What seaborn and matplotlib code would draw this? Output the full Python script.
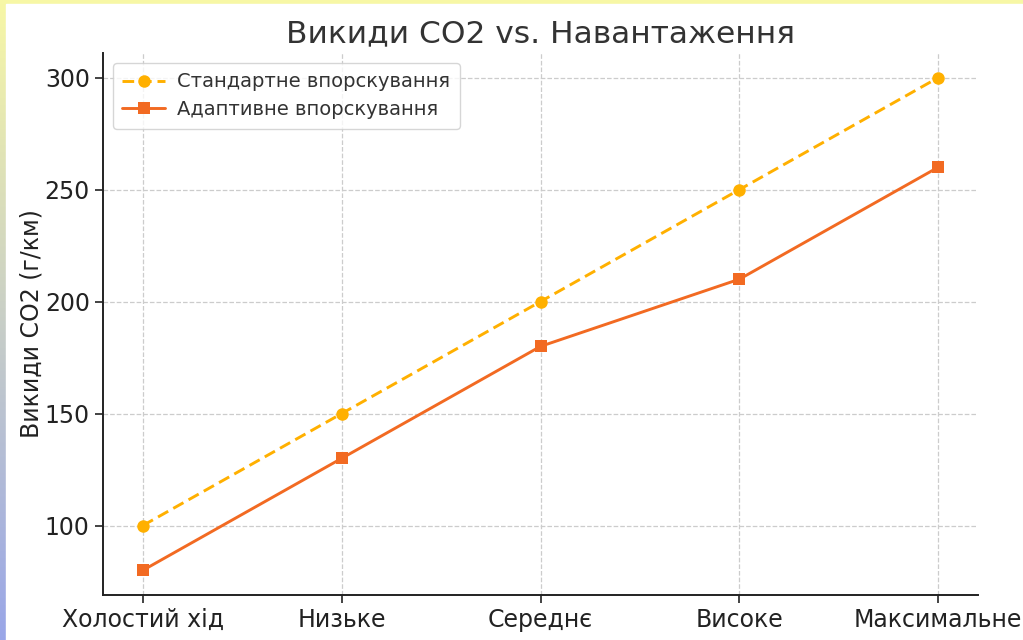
import matplotlib.pyplot as plt
import matplotlib.patches as mpatches
import numpy as np
import pandas as pd
import seaborn as sns

loads = ["Холостий хід", "Низьке", "Середнє", "Високе", "Максимальне"]
standard = [100, 150, 200, 250, 300]
adaptive = [80, 130, 180, 210, 260]
series_names = ["Стандартне впорскування", "Адаптивне впорскування"]

df = pd.DataFrame({
    "load": loads * 2,
    "co2": standard + adaptive,
    "series": [series_names[0]] * len(loads) + [series_names[1]] * len(loads),
})

sns.set_style("ticks")
plt.rcParams["font.family"] = ["DejaVu Sans"]

fig = plt.figure(figsize=(10.23, 6.4), dpi=100)

# decorative frame: yellow top strip, yellow->blue left strip
bg = fig.add_axes([0, 0, 1, 1], zorder=-10)
grad = np.linspace(0, 1, 256).reshape(-1, 1)
c_top = np.array([0.97, 0.97, 0.65])
c_bot = np.array([0.60, 0.65, 0.91])
img = c_top * (1 - grad[..., None]) + c_bot * grad[..., None]
img = img.reshape(256, 1, 3)
img = np.concatenate([img, img], axis=1)
bg.imshow(img, aspect="auto", extent=[0, 1, 0, 1], origin="upper")
bg.add_patch(mpatches.Rectangle((6 / 1023, 0), 1, 1 - 4 / 640, color="white"))
bg.set_xlim(0, 1)
bg.set_ylim(0, 1)
bg.axis("off")

ax = fig.add_axes([103 / 1023, 45 / 640, 875 / 1023, 542 / 640])
ax.patch.set_alpha(0)

palette = {series_names[0]: "#FFB000", series_names[1]: "#F26A22"}
sns.lineplot(data=df, x="load", y="co2", hue="series", style="series",
             palette=palette, markers=["o", "s"], dashes=[(4, 2), ""],
             linewidth=2.1, markersize=9, markeredgewidth=0, sort=False, ax=ax)

ax.set_title("Викиди CO2 vs. Навантаження", fontsize=22.5, color="#333333", pad=8)
ax.set_xlabel("")
ax.set_ylabel("Викиди CO2 (г/км)", fontsize=17, color="#222222", labelpad=1)
ax.set_yticks([100, 150, 200, 250, 300])
ax.tick_params(axis="both", labelsize=17, colors="#222222", length=6, width=1.2)
ax.grid(True, linestyle="--", color="#cccccc", linewidth=0.9)
ax.margins(x=0.05, y=0.05)
sns.despine(ax=ax)
for s in ["left", "bottom"]:
    ax.spines[s].set_linewidth(1.4)
    ax.spines[s].set_color("#222222")

leg = ax.legend(loc="upper left", fontsize=14, frameon=True, handlelength=2.2,
                handletextpad=0.6, borderpad=0.5, labelspacing=0.45)
for t in leg.get_texts():
    t.set_color("#333333")
leg.get_frame().set_edgecolor("#cccccc")

fig.savefig("out.png", dpi=100)
